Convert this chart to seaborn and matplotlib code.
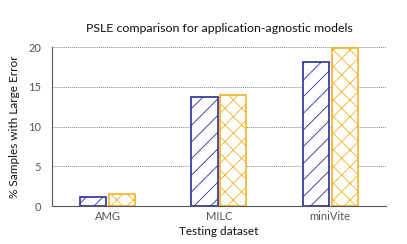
import matplotlib
matplotlib.use("Agg")
from matplotlib import pyplot as plt
import seaborn as sns
import pandas as pd

datasets = ["AMG", "MILC", "miniVite"]
model_a = [1.2, 13.7, 18.1]
model_b = [1.5, 14.0, 19.9]
series_names = ["Model A", "Model B"]

colors = ["#2b2f9a", "#f4b223"]
hatches = ["//", "xx"]


def main():
    sns.set_theme(style="white")
    plt.rcParams["font.family"] = ["Lato", "DejaVu Sans"]
    plt.rcParams["hatch.linewidth"] = 0.6

    tabela = pd.DataFrame({
        "dataset": datasets * 2,
        "valor": model_a + model_b,
        "modelo": [series_names[0]] * 3 + [series_names[1]] * 3,
    })

    fig = plt.figure(figsize=(4.07, 2.44), dpi=100)
    ax = fig.add_axes([0.128, 0.155, 0.82, 0.652])
    sns.barplot(data=tabela, x="dataset", y="valor", hue="modelo", ax=ax,
                width=0.52, gap=0.1, legend=False, errorbar=None)

    # cada série: fundo branco, contorno colorido e hachura
    for i, cont in enumerate(ax.containers):
        for barra in cont:
            barra.set_facecolor("white")
            barra.set_edgecolor(colors[i])
            barra.set_hatch(hatches[i])
            barra.set_linewidth(1.2)

    ax.set_ylim(0, 20)
    ax.set_xlim(-0.5, 2.5)
    ax.set_yticks([0, 5, 10, 15, 20])
    ax.yaxis.grid(True, linestyle=(0, (1, 1)), color="#888888", linewidth=0.7)
    ax.set_axisbelow(True)
    for lado in ["top", "right"]:
        ax.spines[lado].set_visible(False)
    for lado in ["left", "bottom"]:
        ax.spines[lado].set_color("#555555")
        ax.spines[lado].set_linewidth(0.8)
    ax.tick_params(axis="both", labelsize=8, colors="#555555", length=0)
    ax.tick_params(axis="y", length=2, width=0.6, pad=6)
    ax.set_xlabel("Testing dataset", fontsize=8.5, color="#111111", labelpad=3)
    ax.set_ylabel("% Samples with Large Error", fontsize=8.5, color="#111111", labelpad=6)
    ax.set_title("PSLE comparison for application-agnostic models", fontsize=8.9,
                 color="#111111", pad=11)

    fig.savefig("out.png", dpi=100)


if __name__ == "__main__":
    main()
